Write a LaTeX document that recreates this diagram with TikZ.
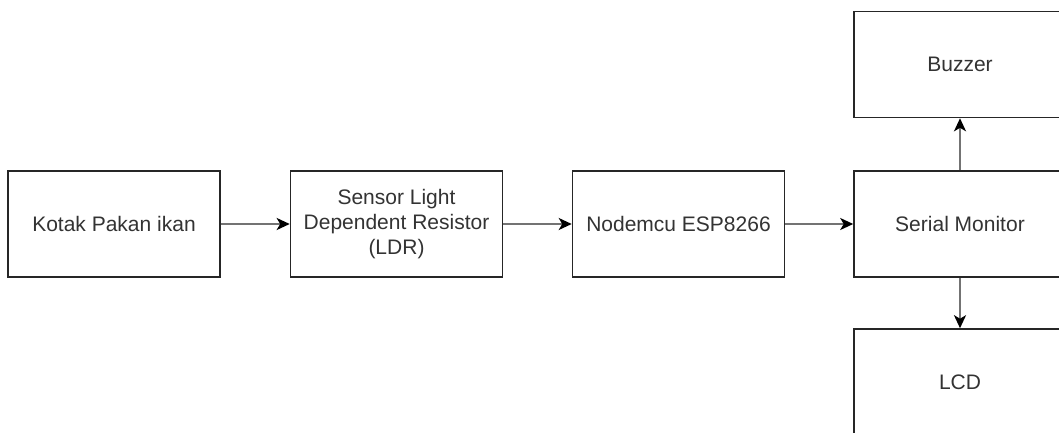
\documentclass[tikz,border=0pt]{standalone}
\usepackage{fontspec}
\setmainfont{Liberation Sans}
\usetikzlibrary{arrows.meta}
\begin{document}
\begin{tikzpicture}[x=1pt,y=-1pt,
  block/.style={draw=black!85, line width=1.6pt, fill=white,
    minimum width=212pt, minimum height=106pt, inner sep=0pt,
    align=center, text=black!80, font=\fontsize{21}{25}\selectfont},
  link/.style={draw=black!55, line width=2.2pt,
    -{Stealth[length=13pt,width=12pt,inset=3.5pt,black]}}]
  \useasboundingbox (0,0) rectangle (1059,433);
  \clip (0,0) rectangle (1059,433);
  \node[block] (kotak) at (114,224) {Kotak Pakan ikan};
  \node[block] (ldr) at (396.5,224) {Sensor Light\\Dependent Resistor\\(LDR)};
  \node[block] (esp) at (678.5,224) {Nodemcu ESP8266};
  \node[block] (serial) at (960,224) {Serial Monitor};
  \node[block] (buzzer) at (960,64.5) {Buzzer};
  \node[block] (lcd) at (960,382) {LCD};
  \draw[link] (kotak) -- (ldr);
  \draw[link] (ldr) -- (esp);
  \draw[link] (esp) -- (serial);
  \draw[link] (serial) -- (buzzer);
  \draw[link] (serial) -- (lcd);
\end{tikzpicture}
\end{document}
